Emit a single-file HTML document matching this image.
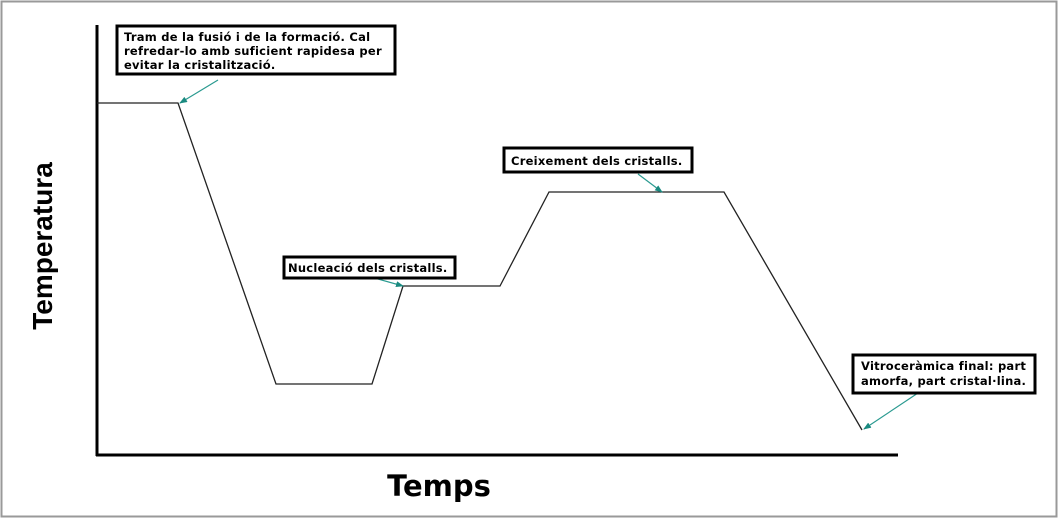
<!DOCTYPE html>
<html><head><meta charset="utf-8"><style>
body{margin:0;background:#fff}
svg text{font-family:"DejaVu Sans",Verdana,sans-serif;font-weight:bold;fill:#000}
.b{font-size:11.5px;letter-spacing:0.25px}
</style></head><body>
<svg width="1060" height="520" viewBox="0 0 1060 520" xmlns="http://www.w3.org/2000/svg">
<rect x="0" y="0" width="1060" height="520" fill="#fff"/>
<rect x="1.5" y="1.5" width="1055" height="515" fill="none" stroke="#999" stroke-width="2"/>
<line x1="97" y1="25" x2="97" y2="456" stroke="#000" stroke-width="3"/>
<line x1="96" y1="455" x2="898" y2="455" stroke="#000" stroke-width="3"/>
<polyline points="97,103 178,103 276,384 372,384 403,286 500,286 549,192 724,192 862,430" fill="none" stroke="#222" stroke-width="1.3"/>
<defs><marker id="a" markerWidth="8" markerHeight="6" refX="7" refY="3" orient="auto" markerUnits="userSpaceOnUse"><path d="M0,0 L8,3 L0,6Z" fill="#1a8a80"/></marker></defs>
<g stroke="#2a9a90" stroke-width="1.2" marker-end="url(#a)">
<line x1="218" y1="80" x2="180" y2="103"/>
<line x1="360" y1="274" x2="403" y2="286"/>
<line x1="638" y1="174" x2="662" y2="192"/>
<line x1="918" y1="393" x2="864" y2="429"/>
</g>
<rect x="117" y="26" width="278" height="48" fill="#fff" stroke="#000" stroke-width="3"/>
<text class="b" x="124" y="41">Tram de la fusió i de la formació. Cal</text>
<text class="b" x="124" y="55">refredar-lo amb suficient rapidesa per</text>
<text class="b" x="124" y="69">evitar la cristalització.</text>
<rect x="284" y="257" width="171" height="21" fill="#fff" stroke="#000" stroke-width="3"/>
<text class="b" x="288" y="272">Nucleació dels cristalls.</text>
<rect x="504" y="148" width="188" height="24" fill="#fff" stroke="#000" stroke-width="3"/>
<text class="b" x="511" y="165">Creixement dels cristalls.</text>
<rect x="853" y="355" width="182" height="38" fill="#fff" stroke="#000" stroke-width="3"/>
<text class="b" x="861" y="370">Vitroceràmica final: part</text>
<text class="b" x="861" y="385">amorfa, part cristal·lina.</text>
<text x="0" y="0" transform="translate(52,246) rotate(-90)" text-anchor="middle" style="font-family:'Liberation Sans',Arial,sans-serif;font-size:28px;font-weight:bold">Temperatura</text>
<text x="439" y="496" text-anchor="middle" font-size="29">Temps</text>
</svg>
</body></html>
